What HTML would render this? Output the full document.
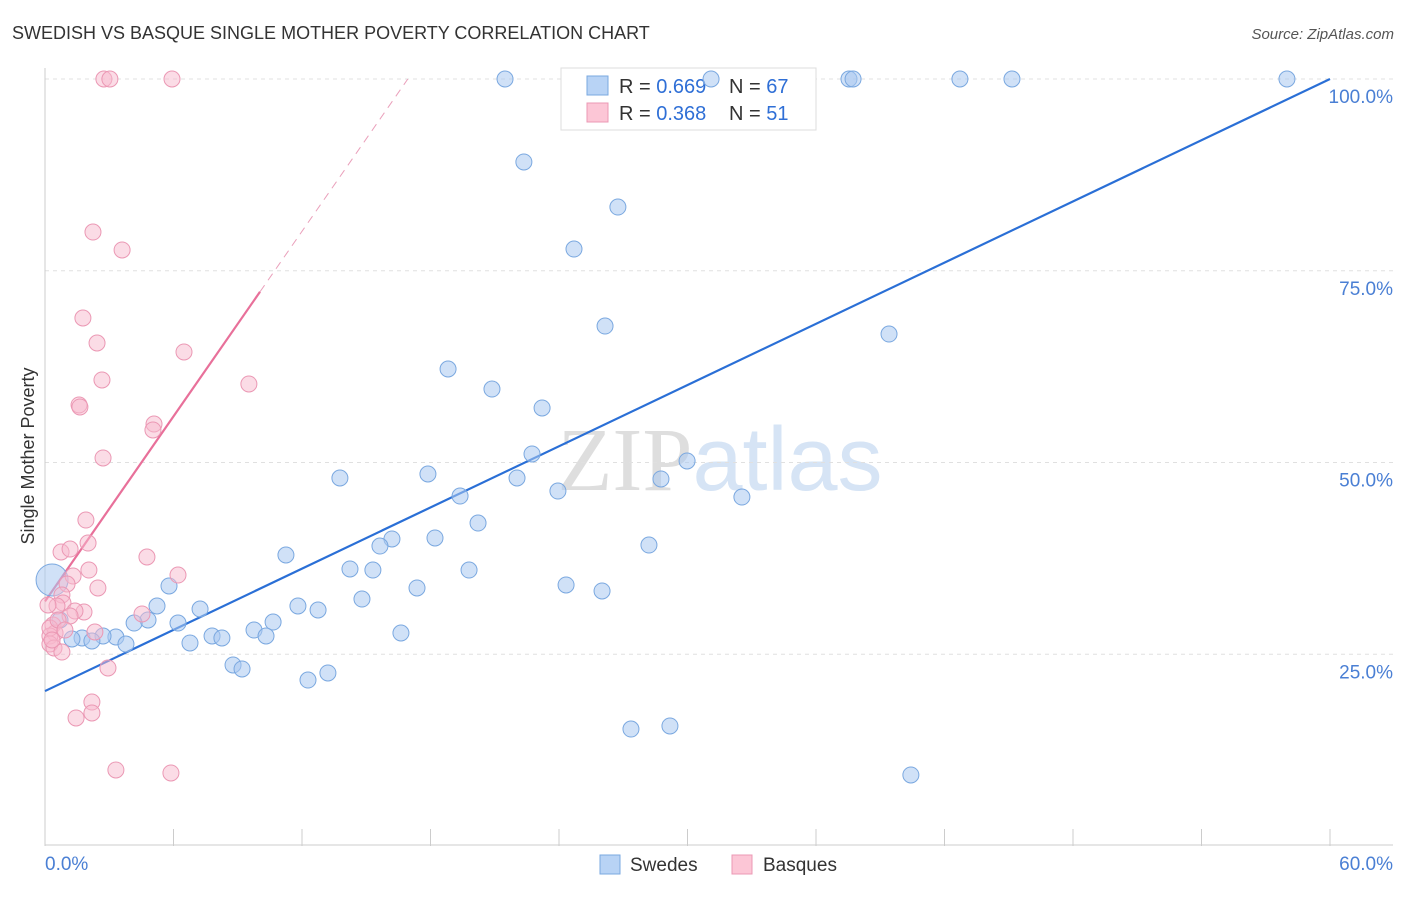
<!DOCTYPE html>
<html><head><meta charset="utf-8"><style>
body{margin:0;background:#fff;font-family:"Liberation Sans",sans-serif;}
svg text{font-family:"Liberation Sans",sans-serif;}
</style></head><body>
<svg id="chart" width="1406" height="892" xmlns="http://www.w3.org/2000/svg">
<text x="12" y="39" font-size="18" fill="#333">SWEDISH VS BASQUE SINGLE MOTHER POVERTY CORRELATION CHART</text>
<text x="1394" y="39" font-size="15" fill="#555" font-style="italic" text-anchor="end">Source: ZipAtlas.com</text>
<text x="720" y="490" font-size="90" text-anchor="middle" fill="#e8e8e8"><tspan font-family="Liberation Serif" fill="#dedede">ZIP</tspan><tspan fill="#d6e4f5">atlas</tspan></text>
<g id="grid"></g><g id="axes"></g>
<g>
<rect x="561" y="68" width="255" height="62" fill="#fff" stroke="#ddd"/>
<rect x="587" y="76" width="21" height="19" fill="#b8d3f5" stroke="#7aa8e0"/>
<rect x="587" y="103" width="21" height="19" fill="#fcc6d6" stroke="#eb98b4"/>
<text x="619" y="93" font-size="20" fill="#333">R = <tspan fill="#2f6fd6">0.669</tspan></text>
<text x="729" y="93" font-size="20" fill="#333">N = <tspan fill="#2f6fd6">67</tspan></text>
<text x="619" y="120" font-size="20" fill="#333">R = <tspan fill="#2f6fd6">0.368</tspan></text>
<text x="729" y="120" font-size="20" fill="#333">N = <tspan fill="#2f6fd6"> 51</tspan></text>
</g>
<g id="lines"></g><g id="pts"></g>
<text transform="translate(34,456) rotate(-90)" font-size="18" fill="#333" text-anchor="middle">Single Mother Poverty</text>
<g>
<rect x="600" y="855" width="20" height="19" fill="#b8d3f5" stroke="#7aa8e0"/>
<text x="630" y="871" font-size="19" fill="#333">Swedes</text>
<rect x="732" y="855" width="20" height="19" fill="#fcc6d6" stroke="#eb98b4"/>
<text x="763" y="871" font-size="19" fill="#333">Basques</text>
</g>
</svg>
<script>
const swedesX=[21.48,31.1,37.54,37.73,42.72,45.15,57.99,22.36,26.75,24.70,26.15,39.41,18.82,20.87,23.21,22.74,29.98,17.88,13.77,22.04,28.76,23.95,19.38,32.54,20.22,18.21,16.20,15.64,28.20,11.25,14.24,15.31,19.80,17.37,24.33,26.01,5.79,5.23,7.24,11.81,12.75,14.80,4.81,4.16,6.21,10.65,9.76,16.62,7.80,8.26,10.32,3.31,2.71,1.73,1.26,2.19,3.78,6.77,8.78,9.20,13.21,12.28,27.36,29.18,40.43,0.33,0.70];
const swedesY=[100,100,100,100,100,100,100,89.18,83.31,77.83,67.79,66.75,62.19,59.58,57.11,51.11,50.20,48.50,47.98,47.98,47.85,46.28,45.63,45.50,42.11,40.16,40.03,39.11,39.24,37.94,36.12,35.98,35.98,33.64,34.03,33.25,33.90,31.29,30.90,31.29,30.77,32.20,29.47,29.07,29.07,29.20,28.16,27.77,27.38,27.12,27.38,27.25,27.38,27.12,26.99,26.73,26.33,26.47,23.60,23.08,22.56,21.64,15.25,15.65,9.26,34.68,29.47];
const basquesX=[2.75,3.03,5.93,2.24,3.60,1.77,2.43,6.49,2.66,9.52,1.59,1.63,5.09,5.04,2.71,1.91,2.01,0.75,1.17,4.76,2.05,6.21,1.31,1.03,2.47,0.79,0.84,4.53,1.82,1.40,0.56,1.17,0.37,2.33,0.47,0.23,0.23,0.42,0.79,2.94,2.19,2.19,1.45,3.31,5.88,0.23,0.33,0.61,0.93,0.14];
const basquesY=[100,100,100,80.05,77.71,68.84,65.58,64.41,60.76,60.24,57.50,57.24,55.02,54.24,50.59,42.50,39.50,38.33,38.72,37.68,35.98,35.33,35.20,34.16,33.64,32.73,31.68,30.25,30.51,30.64,31.29,29.99,28.81,27.90,27.77,27.38,26.34,25.82,25.29,23.21,18.77,17.34,16.69,9.91,9.52,28.42,26.86,29.47,28.16,31.42];
const yTicks=[25,50,75,100];
const xTickLabels=["0.0%","60.0%"];
const blueFit=[20.2,1.33];
const pinkFit=[31.9,4.02];
const NS="http://www.w3.org/2000/svg";
const X=v=>45+v/60*1285, Y=v=>846-v*7.67;
function mk(p,t,a){const e=document.createElementNS(NS,t);for(const k in a)e.setAttribute(k,a[k]);document.getElementById(p).appendChild(e);return e;}
yTicks.forEach(t=>{
 const g=mk('grid','line',{x1:45,x2:1393,y1:Y(t),y2:Y(t),stroke:'#e0e0e0','stroke-dasharray':'4,4'});
 
 
 const l=mk('axes','text',{x:1393,y:Y(t)+24,'font-size':19,fill:'#4a7fd4','text-anchor':'end'});l.textContent=t.toFixed(1)+'%';
 
 
});
mk('axes','line',{x1:45,x2:45,y1:68,y2:846,stroke:'#ccc'});
mk('axes','line',{x1:45,x2:1393,y1:845,y2:845,stroke:'#ccc'});
for(let i=0;i<=10;i++){const x=X(i*6);mk('axes','line',{x1:x,x2:x,y1:829,y2:846,stroke:'#ccc'});}
const a0=mk('axes','text',{x:45,y:870,'font-size':19,fill:'#4a7fd4'});a0.textContent=xTickLabels[0];


const a1=mk('axes','text',{x:1393,y:870,'font-size':19,fill:'#4a7fd4','text-anchor':'end'});a1.textContent=xTickLabels[1];


swedesX.forEach((v,i)=>{const big=i==swedesX.length-2;const c=mk('pts','circle',{cx:X(v),cy:Y(swedesY[i]),r:big?16:8,fill:'rgba(170,200,240,0.55)',stroke:'#7aa8e0','stroke-width':1});
 
 });
basquesX.forEach((v,i)=>{const c=mk('pts','circle',{cx:X(v),cy:Y(basquesY[i]),r:8,fill:'rgba(248,185,206,0.5)',stroke:'#eb98b4','stroke-width':1});
 
 });
const bl=mk('lines','line',{x1:X(0),y1:Y(blueFit[0]),x2:X(60),y2:Y(blueFit[0]+blueFit[1]*60),stroke:'#2a6fd6','stroke-width':2.2});


const pe=10.04, pd=(100-pinkFit[0])/pinkFit[1];
const pl=mk('lines','line',{x1:X(0),y1:Y(pinkFit[0]),x2:X(pe),y2:Y(pinkFit[0]+pinkFit[1]*pe),stroke:'#e8709a','stroke-width':2.2});


const pdl=mk('lines','line',{x1:X(pe),y1:Y(pinkFit[0]+pinkFit[1]*pe),x2:X(pd),y2:Y(100),stroke:'#eaa0bb','stroke-width':1,'stroke-dasharray':'8,6'});


</script>
</body></html>
